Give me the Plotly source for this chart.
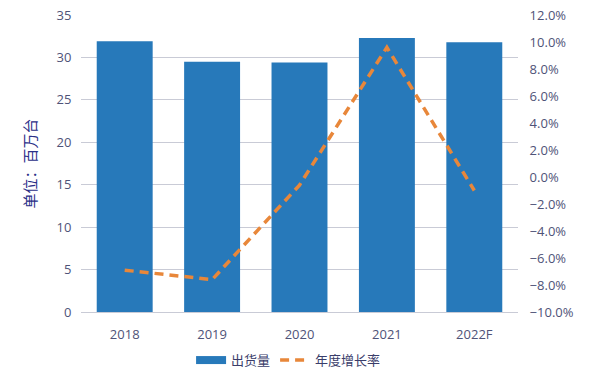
import plotly.graph_objects as go

categories = ["2018", "2019", "2020", "2021", "2022F"]
shipments = [31.9, 29.5, 29.4, 32.3, 31.8]
growth = [-0.069, -0.076, -0.006, 0.096, -0.010]
right_ticks = [-0.10, -0.08, -0.06, -0.04, -0.02, 0.0, 0.02, 0.04, 0.06, 0.08, 0.10, 0.12]

bar_color = "#2779ba"
line_color = "#e8873a"
tick_color = "#4f5378"
font_family = "Open Sans, Noto Sans CJK SC, sans-serif"

fig = go.Figure()
fig.add_trace(go.Bar(
    x=categories, y=shipments, name="出货量",
    marker=dict(color=bar_color, line=dict(width=0)),
    width=0.64, showlegend=False,
))
# legend entry styled as a wide flat bar swatch
fig.add_trace(go.Scatter(
    x=[None], y=[None], name="出货量", mode="lines",
    line=dict(color=bar_color, width=8),
))
fig.add_trace(go.Scatter(
    x=categories, y=growth, name="年度增长率", yaxis="y2",
    mode="lines",
    line=dict(color=line_color, width=3.5, dash="9px,6px"),
))

fig.update_layout(
    width=591, height=376,
    margin=dict(l=81, r=73, t=15, b=64, autoexpand=False),
    paper_bgcolor="white", plot_bgcolor="white",
    font=dict(family=font_family, size=13, color=tick_color),
    showlegend=True,
    legend=dict(orientation="h", x=0.475, xanchor="center", y=-0.162, yanchor="middle",
                font=dict(size=13, color="#3a3d6a"), traceorder="normal"),
    xaxis=dict(showgrid=False, showline=True, linecolor="#c9cbd6", linewidth=1,
               ticks="outside", ticklen=10, tickcolor="rgba(0,0,0,0)",
               tickfont=dict(size=13, color=tick_color), automargin=False),
    yaxis=dict(range=[0, 35], dtick=5, showgrid=True, gridcolor="#c9cbd6", gridwidth=1,
               zeroline=False, showline=False, ticks="outside", ticklen=6,
               tickcolor="rgba(0,0,0,0)", automargin=False,
               tickfont=dict(size=13, color=tick_color),
               title=dict(text="单位：百万台", font=dict(size=15, color="#2b3088"), standoff=16)),
    yaxis2=dict(range=[-0.10, 0.12], overlaying="y", side="right", showgrid=False,
                zeroline=False, showline=False, ticks="outside", ticklen=8,
                tickcolor="rgba(0,0,0,0)", automargin=False,
                tickvals=right_ticks, tickformat=".1%",
                tickfont=dict(size=13, color=tick_color)),
)

fig.write_html("out.html", config={"displayModeBar": False},
               post_script="document.body.style.margin='0';")
